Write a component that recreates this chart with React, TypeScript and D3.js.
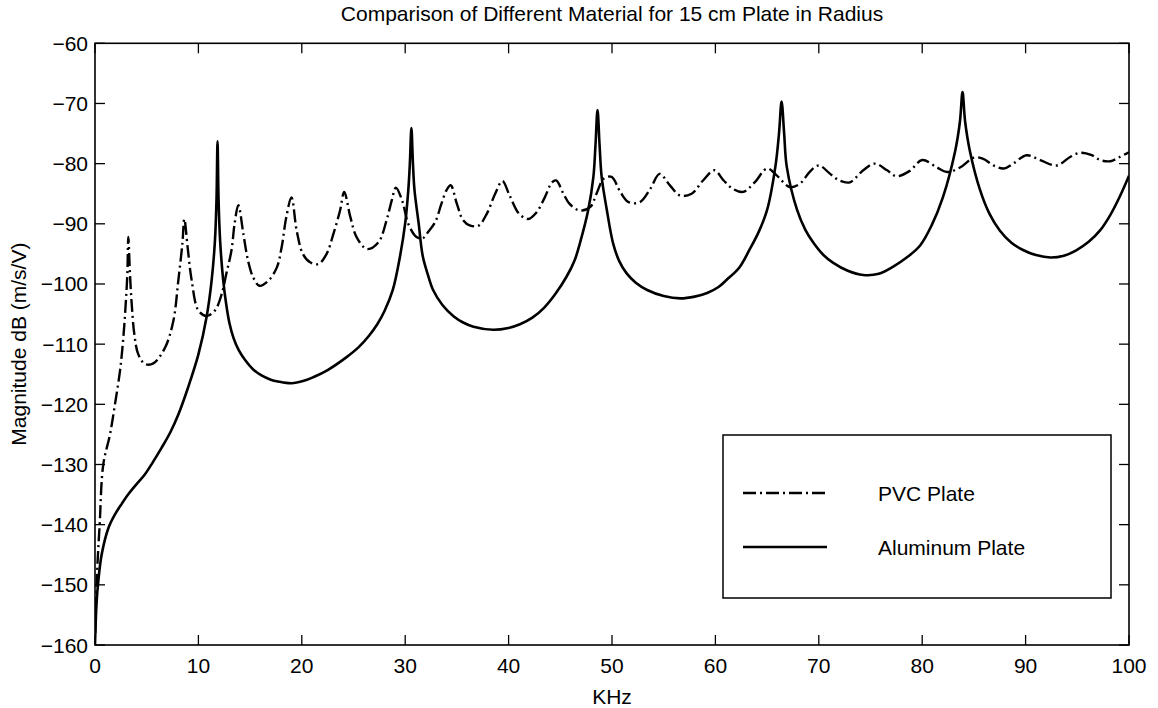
import React from "react";
import * as d3 from "d3";

const xTicks = [0, 10, 20, 30, 40, 50, 60, 70, 80, 90, 100];
const yTicks = [-160, -150, -140, -130, -120, -110, -100, -90, -80, -70, -60];

const alFreq = [0, 0.15, 0.32, 0.64, 1.29, 1.93, 2.6, 3.2, 4.0, 4.8, 5.6, 6.45, 7.3, 8.06, 9.0, 10.0, 10.8, 11.28, 11.6, 11.75, 11.85, 11.95, 12.1, 12.4, 12.7, 13.0, 13.4, 13.9, 14.5, 15.3, 16.1, 17.0, 17.7, 19.0, 20.2, 21.1, 22.5, 24.3, 25.5, 26.5, 27.3, 28.0, 28.8, 29.5, 30.0, 30.3, 30.45, 30.6, 30.75, 30.9, 31.3, 31.7, 32.2, 32.7, 33.6, 34.7, 35.6, 36.6, 38.5, 40.0, 41.1, 42.3, 43.4, 44.5, 45.6, 46.4, 46.9, 47.7, 48.2, 48.4, 48.6, 48.8, 49.0, 49.5, 50.1, 50.7, 51.4, 52.3, 53.4, 55.0, 56.6, 58.0, 59.2, 60.3, 61.1, 62.3, 63.3, 64.2, 65.0, 65.8, 66.15, 66.4, 66.65, 66.9, 67.9, 68.7, 69.5, 70.4, 71.4, 72.8, 74.3, 75.8, 77.2, 78.5, 79.8, 80.9, 82.0, 83.2, 83.65, 83.9, 84.15, 84.6, 85.6, 86.5, 87.5, 88.6, 89.8, 91.0, 92.4, 93.7, 94.9, 96.1, 97.2, 98.2, 99.1, 100];
const alMag = [-160, -153, -149.4, -145, -140.6, -138.3, -136.5, -135, -133.3, -131.7, -129.6, -127.2, -124.6, -121.7, -117.2, -111.7, -105.4, -99.4, -92.8, -86, -76.3, -86, -92.8, -99.4, -103.5, -106.5, -109, -111, -112.6, -114.2, -115.2, -115.9, -116.2, -116.5, -116.1, -115.5, -114.3, -112.2, -110.5, -108.6, -106.7, -104.5, -101, -95.4, -89.9, -84.4, -80, -74.1, -80, -84.4, -89.9, -95.4, -98.5, -101, -103.5, -105.4, -106.4, -107.1, -107.6, -107.3, -106.7, -105.6, -104, -101.7, -98.8, -96, -93.2, -87.7, -82.2, -77, -71.1, -77, -82.2, -87.7, -93.2, -96.2, -98.2, -99.8, -101, -102, -102.4, -102.1, -101.5, -100.5, -99.3, -97.3, -94.3, -91.3, -87.7, -80.5, -75, -69.7, -75, -80.5, -87.7, -91, -93.2, -95.1, -96.5, -97.8, -98.5, -98.3, -97.1, -95.6, -93.6, -90.3, -85.6, -77.8, -73, -68.1, -73, -77.8, -84.4, -88.3, -91.1, -93.1, -94.4, -95.2, -95.6, -95.3, -94.4, -93, -91.1, -88.5, -85.5, -82];

const pvcFreq = [0.02, 0.2, 0.45, 0.8, 1.45, 1.93, 2.42, 2.74, 2.97, 3.13, 3.22, 3.38, 3.55, 3.8, 4.19, 4.84, 5.64, 6.77, 7.58, 8.06, 8.45, 8.64, 8.96, 9.35, 10.0, 10.8, 11.6, 12.25, 12.7, 13.2, 13.5, 13.86, 14.35, 14.8, 15.3, 15.9, 16.8, 17.6, 18.05, 18.5, 19.0, 19.5, 20.1, 20.8, 21.6, 22.4, 23.05, 23.7, 24.1, 24.7, 25.3, 26.3, 27.4, 28.2, 28.7, 29.1, 29.7, 30.3, 31.1, 31.7, 32.2, 32.9, 33.5, 34.0, 34.4, 35.0, 35.6, 36.3, 37.1, 37.9, 38.7, 39.4, 40.1, 41.0, 41.9, 42.7, 43.5, 44.2, 44.6, 45.3, 45.9, 46.9, 47.9, 48.5, 49.2, 49.96, 50.8, 51.6, 52.7, 53.7, 54.6, 55.6, 56.6, 57.7, 58.8, 59.9, 60.8, 61.7, 62.7, 63.8, 65.0, 65.9, 67.2, 68.2, 69.1, 70.0, 71.1, 72.0, 73.0, 74.3, 75.4, 76.6, 77.5, 78.8, 80.0, 81.4, 82.4, 83.7, 85.0, 85.9, 86.9, 87.9, 88.8, 90.1, 91.4, 93.0, 94.3, 95.3, 96.4, 97.2, 98.2, 99.1, 100];
const pvcMag = [-158, -148, -140, -130, -125, -120, -114.4, -108.9, -103.3, -98.3, -92.2, -98.3, -103.3, -108.3, -111.7, -113.3, -113.2, -110.6, -106.1, -99.4, -93.3, -89.2, -93.9, -99.4, -104.4, -105.3, -104.4, -101.7, -98.3, -94.4, -90, -86.9, -91.7, -96.1, -98.9, -100.3, -99.4, -97.2, -93.9, -88.9, -85.6, -91.1, -95, -96.4, -96.7, -95, -91.7, -87.8, -84.7, -88.9, -92.2, -94.2, -93.1, -89.4, -86.1, -84, -86.1, -90, -92.2, -92.4, -91.4, -89.7, -86.7, -84.4, -83.6, -86.7, -89.4, -90.3, -90.3, -88.3, -85, -82.9, -85.3, -88.3, -89.2, -88.1, -85.6, -83.1, -82.8, -85, -86.7, -87.8, -87.2, -85, -82.5, -82.2, -84.7, -86.4, -86.4, -84.2, -81.7, -83.6, -85.3, -85, -82.8, -81.1, -82.8, -84.2, -84.7, -83.1, -80.8, -81.9, -83.9, -83.3, -81.4, -80.3, -81.7, -82.8, -83.1, -81.1, -80, -81.1, -82.1, -81.2, -79.4, -80.6, -81.4, -80.6, -79, -79.2, -80.3, -80.8, -80, -78.6, -79.4, -80.3, -78.9, -78.2, -78.6, -79.4, -79.6, -78.9, -78.1];

const seriesNames = ["PVC Plate", "Aluminum Plate"];

const W = 1158;
const H = 708;
const L = 95, R = 1129, T = 43.3, B = 645;
const FONT = "'Liberation Sans', Arial, Helvetica, sans-serif";
const FS = 21;

export default function App() {
  const x = d3.scaleLinear().domain([0, 100]).range([L, R]);
  const y = d3.scaleLinear().domain([-160, -60]).range([B, T]);
  const line = d3
    .line<[number, number]>()
    .x((d) => x(d[0]))
    .y((d) => y(d[1]))
    .curve(d3.curveCatmullRom.alpha(0.5));
  const alData = alFreq.map((f, i) => [f, alMag[i]] as [number, number]);
  const pvcData = pvcFreq.map((f, i) => [f, pvcMag[i]] as [number, number]);
  const tickLen = 10;
  const dash = "13 4 2 4";

  return (
    <svg width={W} height={H} style={{ position: "absolute", left: 0, top: 0, background: "#fff" }} fontFamily={FONT}>
      <rect x={0} y={0} width={W} height={H} fill="#fff" />
      <defs>
        <clipPath id="plotClip">
          <rect x={L} y={T - 2} width={R - L} height={B - T + 4} />
        </clipPath>
      </defs>
      <text x={(L + R) / 2} y={21} textAnchor="middle" fontSize={FS} fill="#000">
        Comparison of Different Material for 15 cm Plate in Radius
      </text>
      <g clipPath="url(#plotClip)">
        <path d={line(pvcData) || ""} fill="none" stroke="#000" strokeWidth={2.4} strokeDasharray={dash} />
        <path d={line(alData) || ""} fill="none" stroke="#000" strokeWidth={2.6} strokeLinejoin="round" />
      </g>
      <rect x={L} y={T} width={R - L} height={B - T} fill="none" stroke="#000" strokeWidth={1.6} />
      {xTicks.map((t) => (
        <g key={"x" + t}>
          <line x1={x(t)} x2={x(t)} y1={B} y2={B - tickLen} stroke="#000" strokeWidth={1.3} />
          <line x1={x(t)} x2={x(t)} y1={T} y2={T + tickLen} stroke="#000" strokeWidth={1.3} />
          <text x={x(t)} y={673} textAnchor="middle" fontSize={FS} fill="#000">
            {t}
          </text>
        </g>
      ))}
      {yTicks.map((t) => (
        <g key={"y" + t}>
          <line x1={L} x2={L + tickLen} y1={y(t)} y2={y(t)} stroke="#000" strokeWidth={1.3} />
          <line x1={R} x2={R - tickLen} y1={y(t)} y2={y(t)} stroke="#000" strokeWidth={1.3} />
          <text x={88} y={y(t) + 7.5} textAnchor="end" fontSize={FS} fill="#000">
            {t < 0 ? "\u2212" + Math.abs(t) : String(t)}
          </text>
        </g>
      ))}
      <text x={612} y={704} textAnchor="middle" fontSize={FS} fill="#000">
        KHz
      </text>
      <text transform={`translate(26, ${(T + B) / 2}) rotate(-90)`} textAnchor="middle" fontSize={FS} fill="#000">
        Magnitude dB (m/s/V)
      </text>
      <g>
        <rect x={723} y={435} width={388} height={163} fill="#fff" stroke="#000" strokeWidth={1.5} />
        <line x1={743} x2={827} y1={493} y2={493} stroke="#000" strokeWidth={2.4} strokeDasharray={dash} />
        <line x1={743} x2={827} y1={547} y2={547} stroke="#000" strokeWidth={2.6} />
        <text x={878} y={501} fontSize={FS} fill="#000">
          {seriesNames[0]}
        </text>
        <text x={878} y={555} fontSize={FS} fill="#000">
          {seriesNames[1]}
        </text>
      </g>
    </svg>
  );
}
